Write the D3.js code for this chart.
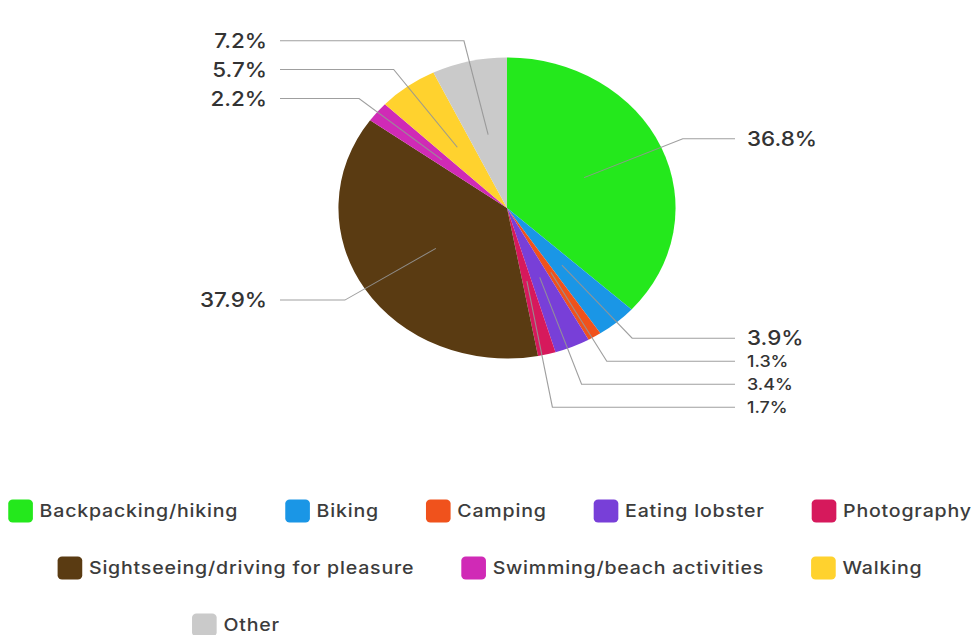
<!DOCTYPE html>
<html>
<head>
<meta charset="utf-8">
<script src="https://cdn.jsdelivr.net/npm/d3@7"></script>
<style>
  html, body { margin: 0; padding: 0; background: #fff; }
  svg { display: block; }
</style>
</head>
<body>
<svg id="chart"></svg>
<script>
// Activity shares, clockwise from 12 o'clock
const categories = [
  "Backpacking/hiking", "Biking", "Camping", "Eating lobster", "Photography",
  "Sightseeing/driving for pleasure", "Swimming/beach activities", "Walking", "Other"
];
const shares = [36.8, 3.9, 1.3, 3.4, 1.7, 37.9, 2.2, 5.7, 7.2];
const colors = [
  "#24e81c", "#1a96e6", "#f0521c", "#783fd8", "#d6195c",
  "#5a3b12", "#d02ab6", "#ffd22e", "#cacaca"
];

const WIDTH = 980, HEIGHT = 635;
const SX = 1.12;                 // horizontal stretch of the whole drawing
const VW = WIDTH / SX;           // user-space width

const svg = d3.select("#chart")
  .attr("width", WIDTH).attr("height", HEIGHT)
  .attr("viewBox", `0 0 ${VW} ${HEIGHT}`)
  .attr("preserveAspectRatio", "none");

const FONT = "Inter, 'Noto Sans', sans-serif";
const data = categories.map((c, i) => ({ name: c, value: shares[i], color: colors[i] }));

// ---- pie ----
const cx = 507 / SX, cy = 208, R = 150.5;
const pie = d3.pie().sort(null).value(d => d.value);
const arcs = pie(data);
const arc = d3.arc().innerRadius(0).outerRadius(R);

const gPie = svg.append("g").attr("transform", `translate(${cx},${cy})`);
gPie.selectAll("path.slice").data(arcs).join("path")
  .attr("class", "slice")
  .attr("d", arc)
  .attr("fill", d => d.data.color);

// ---- leader lines and value labels ----
const polar = (a, f) => [f * R * Math.sin(a), -f * R * Math.cos(a)];
const labels = arcs.map(d => {
  const mid = (d.startAngle + d.endAngle) / 2;
  const inner = polar(mid, 0.5);
  const elbow = polar(mid, 1.14);
  return {
    text: d.data.value.toFixed(1) + "%",
    side: Math.sin(mid) >= 0 ? "right" : "left",
    inner, elbow, natY: elbow[1], y: elbow[1], pushed: false
  };
});

// spread labels on each side so they keep a minimum vertical gap
const MIN_GAP = 23;
["left", "right"].forEach(side => {
  const group = labels.filter(l => l.side === side).sort((a, b) => a.natY - b.natY);
  group.forEach((l, i) => {
    if (i > 0 && l.y < group[i - 1].y + MIN_GAP) {
      l.y = group[i - 1].y + MIN_GAP;
      l.pushed = true;
    }
  });
});

const rightLineEnd = 735 / SX - cx, rightText = 747 / SX - cx;
const leftLineEnd = 280 / SX - cx, leftText = 267 / SX - cx;

const gLab = gPie.append("g");
gLab.selectAll("polyline").data(labels).join("polyline")
  .attr("points", l => {
    const endX = l.side === "right" ? rightLineEnd : leftLineEnd;
    return [l.inner, [l.elbow[0], l.y], [endX, l.y]].map(p => p.join(",")).join(" ");
  })
  .attr("fill", "none")
  .attr("stroke", "#959595")
  .attr("stroke-opacity", 0.9)
  .attr("stroke-width", 1);

gLab.selectAll("text").data(labels).join("text")
  .attr("x", l => l.side === "right" ? rightText : leftText)
  .attr("y", l => l.y)
  .attr("dy", "0.36em")
  .attr("text-anchor", l => l.side === "right" ? "start" : "end")
  .attr("font-family", FONT)
  .attr("font-weight", 500)
  .attr("font-size", l => l.pushed ? 16 : 20)
  .attr("fill", "#333")
  .text(l => l.text);

// ---- legend (flowing rows, centred) ----
const SW = 22, SWH = 23, TXT_GAP = 6, ITEM_GAP = 42, MAX_W = 872;
const ROW_Y = [511, 568, 625];
const gLeg = svg.append("g");
const items = gLeg.selectAll("g.item").data(data).join("g").attr("class", "item");
items.append("rect")
  .attr("width", SW).attr("height", SWH)
  .attr("y", -SWH / 2)
  .attr("rx", 4).attr("ry", 4)
  .attr("fill", d => d.color);
items.append("text")
  .attr("x", SW + TXT_GAP)
  .attr("dy", "0.36em")
  .attr("font-family", FONT)
  .attr("font-weight", 500)
  .attr("font-size", 17.5)
  .attr("letter-spacing", 0.7)
  .attr("fill", "#3c3c3c")
  .text(d => d.name);

const widths = [];
items.each(function () {
  widths.push(SW + TXT_GAP + d3.select(this).select("text").node().getComputedTextLength());
});

const rows = [];
let cur = [], curW = 0;
widths.forEach((w, i) => {
  const add = cur.length ? ITEM_GAP + w : w;
  if (cur.length && curW + add > MAX_W) { rows.push(cur); cur = []; curW = 0; }
  curW += cur.length ? ITEM_GAP + w : w;
  cur.push(i);
});
if (cur.length) rows.push(cur);

const rowWidth = r => r.reduce((s, i, k) => s + widths[i] + (k ? ITEM_GAP : 0), 0);
const pos = [];
rows.forEach((r, ri) => {
  let x;
  if (ri > 0 && ri === rows.length - 1 && r.length === 1) {
    // a lone trailing item sits under the first item of the row above
    const above = rows[ri - 1][0];
    x = pos[above] + widths[above] / 2 - widths[r[0]] / 2;
  } else {
    x = VW / 2 - rowWidth(r) / 2;
  }
  r.forEach(i => { pos[i] = x; x += widths[i] + ITEM_GAP; });
  r.forEach(i => d3.select(items.nodes()[i]).attr("transform", `translate(${pos[i]},${ROW_Y[ri]})`));
});
</script>
</body>
</html>
